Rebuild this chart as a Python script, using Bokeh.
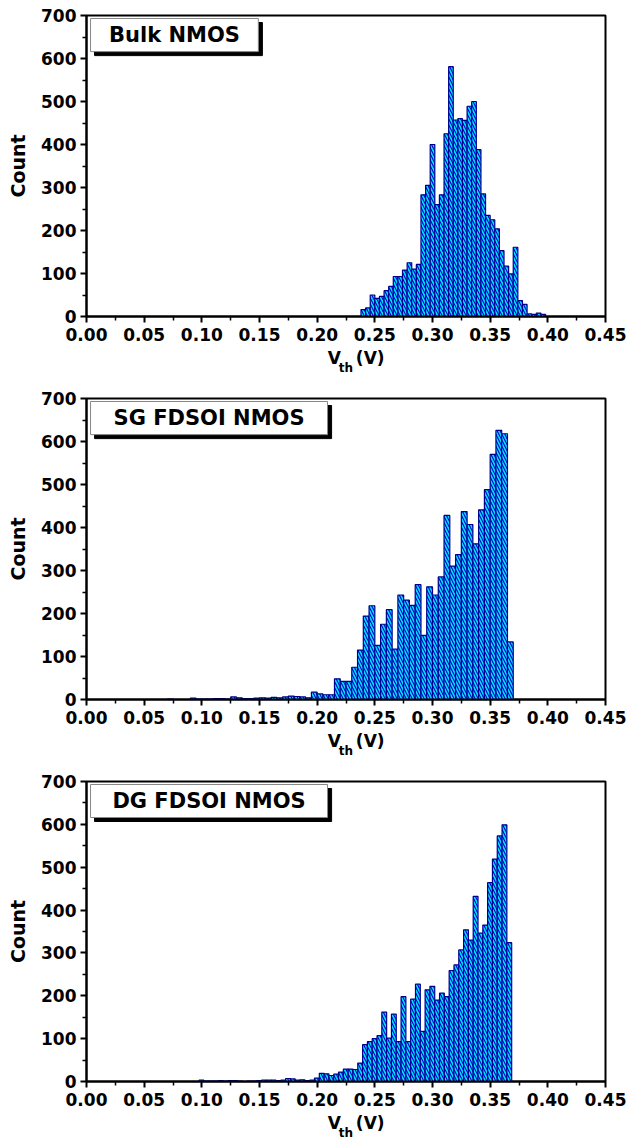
from bokeh.plotting import figure
from bokeh.models import (Range1d, FixedTicker, PrintfTickFormatter, Label,
                          BoxAnnotation, ColumnDataSource, LinearAxis)
from bokeh.layouts import column
from bokeh.embed import file_html
from bokeh.resources import INLINE

# ---------------- data ----------------
x_ticks = [0.00, 0.05, 0.10, 0.15, 0.20, 0.25, 0.30, 0.35, 0.40, 0.45]
x_minor = [0.025, 0.075, 0.125, 0.175, 0.225, 0.275, 0.325, 0.375, 0.425]
y_ticks = [0, 100, 200, 300, 400, 500, 600, 700]
y_minor = [50, 150, 250, 350, 450, 550, 650]

panel_titles = ["Bulk NMOS", "SG FDSOI NMOS", "DG FDSOI NMOS"]
x_label_main = "V"
x_label_sub = "th"
x_label_unit = "(V)"

bulk_bin_start = 0.238
bulk_bin_width = 0.004
bulk_counts = [16, 20, 50, 42, 47, 60, 70, 93, 93, 108, 125, 110, 121,
               283, 305, 400, 260, 283, 425, 581, 457, 460, 456, 489, 500,
               388, 285, 235, 225, 204, 153, 117, 99, 161, 37, 28, 6, 5, 8, 5]

sg_bin_start = 0.07
sg_bin_width = 0.005
sg_counts = [1, 0, 0, 0, 3, 1, 1, 1, 2, 2, 1, 6, 4, 2, 2, 3, 4, 3, 5, 4,
             6, 8, 7, 6, 4, 17, 13, 11, 11, 48, 42, 42, 75, 115, 194, 218,
             126, 175, 209, 117, 243, 231, 219, 267, 149, 262, 243, 285,
             428, 310, 337, 437, 407, 362, 441, 488, 570, 626, 618, 134]

dg_bin_start = 0.0976
dg_bin_width = 0.00417
dg_counts = [3, 1, 1, 1, 2, 1, 2, 2, 1, 0, 1, 1, 2, 3, 3, 3, 2,
             3, 7, 6, 3, 4, 2, 3, 8, 19, 18, 14, 17, 22, 29, 29, 28, 43,
             86, 93, 100, 107, 162, 101, 157, 93, 198, 93, 192, 227, 117,
             214, 222, 190, 206, 198, 259, 272, 307, 354, 330, 432, 346,
             365, 464, 519, 573, 599, 324]

FONT = "DejaVu Sans"
FILL = "#00E5FF"
HATCH = "#0000CD"
EDGE = "#00008B"

# positions (in V) where the pieces of the x-axis title are centred
V_POS = 0.2148
UNIT_POS = 0.2460


def make_panel(title, start, width, counts, height, border_bottom, box_right):
    p = figure(width=642, height=height,
               x_range=Range1d(0, 0.45), y_range=Range1d(0, 700),
               output_backend="svg", toolbar_location=None,
               min_border_left=86, min_border_right=37,
               min_border_top=15, min_border_bottom=border_bottom)
    p.xgrid.visible = False
    p.ygrid.visible = False
    p.outline_line_color = "black"
    p.outline_line_width = 2
    p.background_fill_color = "white"
    p.border_fill_color = "white"

    lefts = [start + i * width for i in range(len(counts))]
    rights = [l + width for l in lefts]
    src = ColumnDataSource(dict(left=lefts, right=rights, top=counts))
    p.quad(left="left", right="right", bottom=0, top="top", source=src,
           fill_color=FILL, line_color=EDGE, line_width=1.2,
           hatch_pattern="\\", hatch_color=HATCH, hatch_scale=6,
           hatch_weight=1.1)

    # axes
    p.xaxis.ticker = FixedTicker(ticks=x_ticks, minor_ticks=x_minor)
    p.xaxis.formatter = PrintfTickFormatter(format="%.2f")
    p.yaxis.ticker = FixedTicker(ticks=y_ticks, minor_ticks=y_minor)
    for ax in (p.xaxis, p.yaxis):
        ax.axis_line_width = 2
        ax.axis_line_color = "black"
        ax.major_tick_line_width = 2
        ax.major_tick_line_color = "black"
        ax.minor_tick_line_width = 1.5
        ax.minor_tick_line_color = "black"
        ax.major_tick_out = 6
        ax.major_tick_in = 0
        ax.minor_tick_out = 4
        ax.minor_tick_in = 0
        ax.major_label_text_font = FONT
        ax.major_label_text_font_style = "bold"
        ax.major_label_text_font_size = "17px"
        ax.major_label_text_color = "black"
    p.xaxis.major_label_standoff = 5
    p.yaxis.major_label_standoff = 4
    p.yaxis.axis_label = "Count"
    p.yaxis.axis_label_text_font = FONT
    p.yaxis.axis_label_text_font_style = "bold"
    p.yaxis.axis_label_text_font_size = "19px"
    p.yaxis.axis_label_text_color = "black"
    p.yaxis.axis_label_standoff = 9

    # x-axis title "V_th (V)" built from a second, line-less axis below
    t_ax = LinearAxis(ticker=FixedTicker(ticks=[V_POS, UNIT_POS], minor_ticks=[]),
                      major_label_overrides={V_POS: x_label_main,
                                             UNIT_POS: x_label_unit})
    t_ax.axis_line_color = None
    t_ax.major_tick_line_color = None
    t_ax.minor_tick_line_color = None
    t_ax.major_tick_out = 0
    t_ax.major_tick_in = 0
    t_ax.major_label_standoff = 4
    t_ax.major_label_text_font = FONT
    t_ax.major_label_text_font_style = "bold"
    t_ax.major_label_text_font_size = "17px"
    t_ax.major_label_text_color = "black"
    t_ax.axis_label = x_label_sub
    t_ax.axis_label_text_font = FONT
    t_ax.axis_label_text_font_style = "bold"
    t_ax.axis_label_text_font_size = "12px"
    t_ax.axis_label_text_color = "black"
    t_ax.axis_label_standoff = -10
    p.add_layout(t_ax, "below")

    # title box with shadow
    bl, bb_, bt = 0.0035, 616, 693
    p.add_layout(BoxAnnotation(left=bl + 0.0035, right=box_right + 0.0035,
                               bottom=bb_ - 9.3, top=bt - 9.3,
                               fill_color="black", fill_alpha=1,
                               line_color="black", line_alpha=1))
    p.add_layout(BoxAnnotation(left=bl, right=box_right, bottom=bb_, top=bt,
                               fill_color="white", fill_alpha=1,
                               line_color="#888888", line_width=1,
                               line_alpha=1))
    p.add_layout(Label(x=(bl + box_right) / 2, y=(bb_ + bt) / 2, text=title,
                       text_font=FONT, text_font_style="bold",
                       text_font_size="21px", text_align="center",
                       text_baseline="middle", text_color="black"))
    return p


p1 = make_panel(panel_titles[0], bulk_bin_start, bulk_bin_width, bulk_counts,
                383, 67, 0.149)
p2 = make_panel(panel_titles[1], sg_bin_start, sg_bin_width, sg_counts,
                383, 67, 0.209)
p3 = make_panel(panel_titles[2], dg_bin_start, dg_bin_width, dg_counts,
                376, 60, 0.209)

layout = column(p1, p2, p3, spacing=0)
open("out.html", "w").write(file_html(layout, INLINE))
